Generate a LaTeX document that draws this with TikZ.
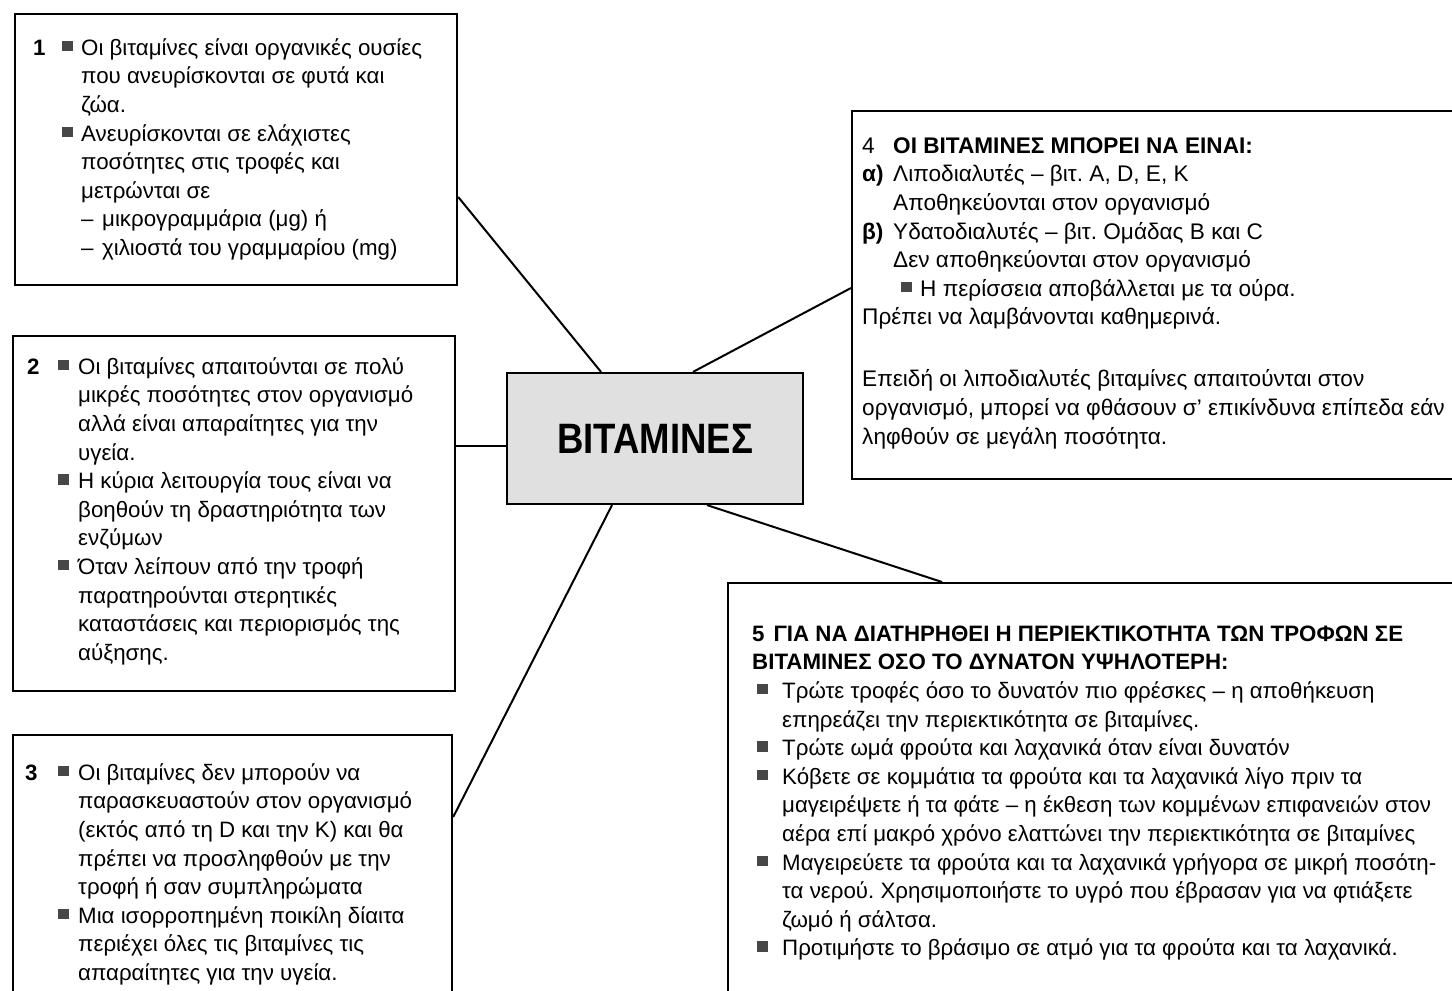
\documentclass[tikz,border=0pt]{standalone}
\usepackage{fontspec}
\setmainfont{Liberation Sans}
\newfontfamily\headfont[FakeStretch=0.86]{Liberation Sans}
\usepackage{array}
\frenchspacing
\newcommand\sq{\textcolor{black!72}{\rule[4pt]{10.5pt}{10.5pt}}}
\newcommand\dashitem{\makebox[21pt][l]{–}}
\begin{document}
\begin{tikzpicture}[x=1pt,y=-1pt,
  panel/.style={draw=black, line width=2.2pt, fill=white, rectangle, inner sep=0pt, anchor=north west},
  hub/.style={draw=black, line width=2.2pt, fill=black!12, rectangle, inner sep=0pt},
  link/.style={line width=2pt, draw=black},
  txt/.style={anchor=north west, inner sep=0pt, font=\fontsize{22.3}{28.6}\selectfont},
  bigtxt/.style={anchor=north west, inner sep=0pt, font=\fontsize{22.6}{28.6}\selectfont}]
\useasboundingbox (0,0) rectangle (1452,991);
\clip (0,0) rectangle (1452,991);
\fill[white] (0,0) rectangle (1452,991);

% panels
\node[panel, minimum width=442pt, minimum height=271pt] (b1) at (14,13) {};
\node[panel, minimum width=442pt, minimum height=355pt] (b2) at (12,335) {};
\node[panel, minimum width=439pt, minimum height=290pt] (b3) at (12,734) {};
\node[panel, minimum width=640pt, minimum height=368pt] (b4) at (851,110) {};
\node[panel, minimum width=760pt, minimum height=440pt] (b5) at (727,582) {};
\node[hub, minimum width=296pt, minimum height=131pt] (m) at (655,438.5)
  {\headfont\bfseries\fontsize{42.5}{42.5}\selectfont ΒΙΤΑΜΙΝΕΣ};

% connector end points on the borders
\coordinate (e1) at (b1.east |- 0,197);
\coordinate (h1) at (m.north -| 601,0);
\coordinate (e2) at (b2.east |- 0,446);
\coordinate (h2) at (m.west |- 0,446);
\coordinate (e3) at (b3.east |- 0,817);
\coordinate (h3) at (m.south -| 612,0);
\coordinate (e4) at (b4.west |- 0,288);
\coordinate (h4) at (m.north -| 693,0);
\coordinate (e5) at (b5.north -| 942,0);
\coordinate (h5) at (m.south -| 707,0);
\draw[link] (e1) -- (h1);
\draw[link] (e2) -- (h2);
\draw[link] (e3) -- (h3);
\draw[link] (e4) -- (h4);
\draw[link] (e5) -- (h5);

% panel 1
\node[txt] (t1) at (33,35) {%
\begin{tabular}{@{}p{29pt}@{}p{19pt}@{}l@{}}
\textbf{1} & \sq & Οι βιταμίνες είναι οργανικές ουσίες\\
 & & που ανευρίσκονται σε φυτά και\\
 & & ζώα.\\
 & \sq & Ανευρίσκονται σε ελάχιστες\\
 & & ποσότητες στις τροφές και\\
 & & μετρώνται σε\\
 & & \dashitem μικρογραμμάρια (μg) ή\\
 & & \dashitem χιλιοστά του γραμμαρίου (mg)
\end{tabular}};

% panel 2
\node[txt] (t2) at (27,354) {%
\begin{tabular}{@{}p{31pt}@{}p{20pt}@{}l@{}}
\textbf{2} & \sq & Οι βιταμίνες απαιτούνται σε πολύ\\
 & & μικρές ποσότητες στον οργανισμό\\
 & & αλλά είναι απαραίτητες για την\\
 & & υγεία.\\
 & \sq & Η κύρια λειτουργία τους είναι να\\
 & & βοηθούν τη δραστηριότητα των\\
 & & ενζύμων\\
 & \sq & Όταν λείπουν από την τροφή\\
 & & παρατηρούνται στερητικές\\
 & & καταστάσεις και περιορισμός της\\
 & & αύξησης.
\end{tabular}};

% panel 3
\node[txt] (t3) at (25,760) {%
\begin{tabular}{@{}p{33pt}@{}p{20pt}@{}l@{}}
\textbf{3} & \sq & Οι βιταμίνες δεν μπορούν να\\
 & & παρασκευαστούν στον οργανισμό\\
 & & (εκτός από τη D και την K) και θα\\
 & & πρέπει να προσληφθούν με την\\
 & & τροφή ή σαν συμπληρώματα\\
 & \sq & Μια ισορροπημένη ποικίλη δίαιτα\\
 & & περιέχει όλες τις βιταμίνες τις\\
 & & απαραίτητες για την υγεία.
\end{tabular}};

% panel 4
\node[bigtxt] (t4) at (862,133) {%
\begin{tabular}{@{}p{31pt}@{}l@{}}
4 & \textbf{ΟΙ ΒΙΤΑΜΙΝΕΣ ΜΠΟΡΕΙ ΝΑ ΕΙΝΑΙ:}\\
\textbf{α)} & Λιποδιαλυτές – βιτ. A, D, E, K\\
 & Αποθηκεύονται στον οργανισμό\\
\textbf{β)} & Υδατοδιαλυτές – βιτ. Ομάδας B και C\\
 & Δεν αποθηκεύονται στον οργανισμό\\
 & \hspace*{8pt}\makebox[19pt][l]{\sq}Η περίσσεια αποβάλλεται με τα ούρα.\\
\multicolumn{2}{@{}l@{}}{Πρέπει να λαμβάνονται καθημερινά.}\\[33.5pt]
\multicolumn{2}{@{}l@{}}{Επειδή οι λιποδιαλυτές βιταμίνες απαιτούνται στον}\\
\multicolumn{2}{@{}l@{}}{οργανισμό, μπορεί να φθάσουν σ' επικίνδυνα επίπεδα εάν}\\
\multicolumn{2}{@{}l@{}}{ληφθούν σε μεγάλη ποσότητα.}
\end{tabular}};

% panel 5
\node[txt] (t5) at (752,621) {%
\begin{tabular}{@{}p{30pt}@{}l@{}}
\multicolumn{2}{@{}l@{}}{\textbf{5\hspace{9pt}ΓΙΑ ΝΑ ΔΙΑΤΗΡΗΘΕΙ Η ΠΕΡΙΕΚΤΙΚΟΤΗΤΑ ΤΩΝ ΤΡΟΦΩΝ ΣΕ}}\\
\multicolumn{2}{@{}l@{}}{\textbf{ΒΙΤΑΜΙΝΕΣ ΟΣΟ ΤΟ ΔΥΝΑΤΟΝ ΥΨΗΛΟΤΕΡΗ:}}\\
\hspace*{5pt}\sq & Τρώτε τροφές όσο το δυνατόν πιο φρέσκες – η αποθήκευση\\
 & επηρεάζει την περιεκτικότητα σε βιταμίνες.\\
\hspace*{5pt}\sq & Τρώτε ωμά φρούτα και λαχανικά όταν είναι δυνατόν\\
\hspace*{5pt}\sq & Κόβετε σε κομμάτια τα φρούτα και τα λαχανικά λίγο πριν τα\\
 & μαγειρέψετε ή τα φάτε – η έκθεση των κομμένων επιφανειών στον\\
 & αέρα επί μακρό χρόνο ελαττώνει την περιεκτικότητα σε βιταμίνες\\
\hspace*{5pt}\sq & Μαγειρεύετε τα φρούτα και τα λαχανικά γρήγορα σε μικρή ποσότη-\\
 & τα νερού. Χρησιμοποιήστε το υγρό που έβρασαν για να φτιάξετε\\
 & ζωμό ή σάλτσα.\\
\hspace*{5pt}\sq & Προτιμήστε το βράσιμο σε ατμό για τα φρούτα και τα λαχανικά.
\end{tabular}};
\end{tikzpicture}
\end{document}
